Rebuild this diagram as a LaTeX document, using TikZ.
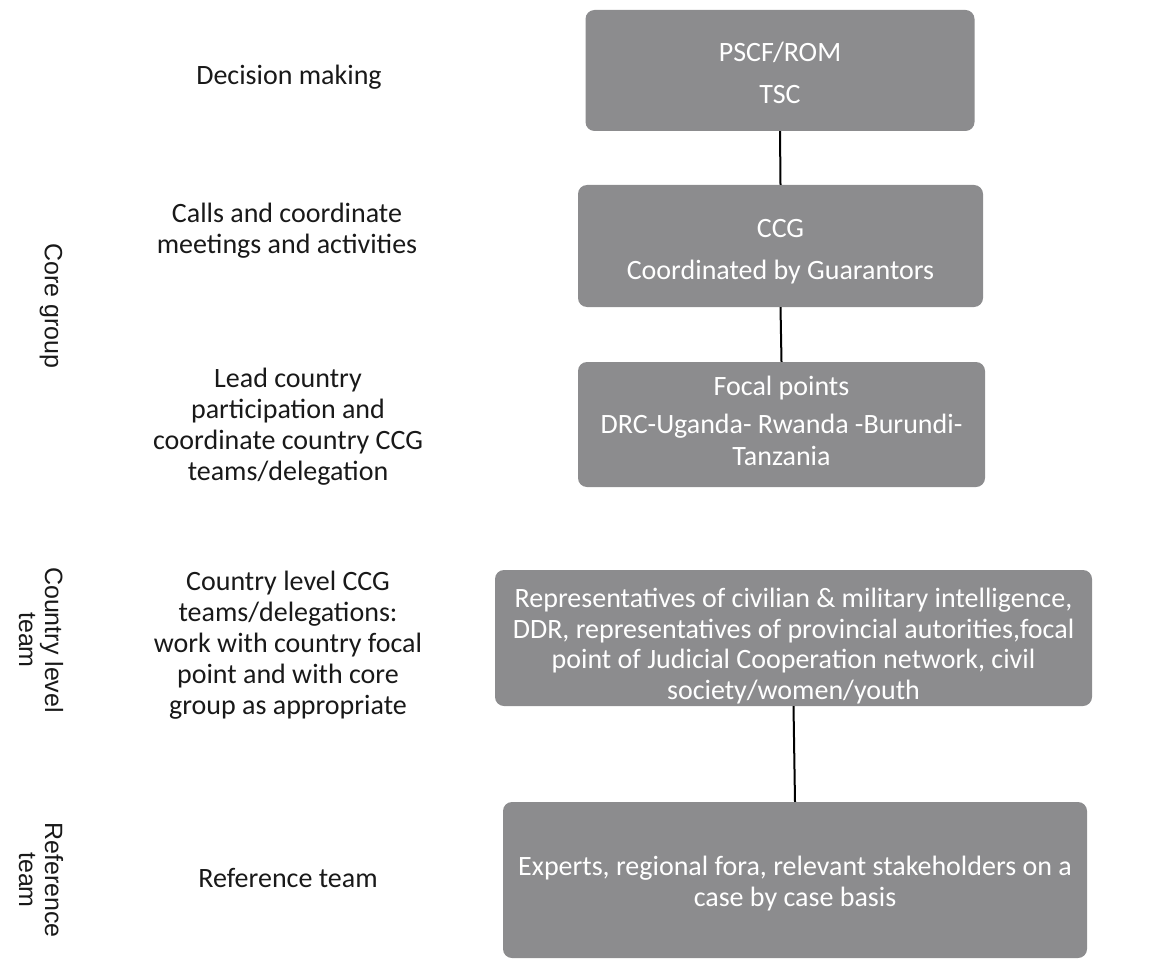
\documentclass[tikz,border=0pt]{standalone}
\usepackage{fontspec}
\setmainfont{Carlito}
\newfontfamily\sidefont{Liberation Sans}
\definecolor{boxgray}{RGB}{140,140,142}
\definecolor{labelgray}{RGB}{25,25,25}
\begin{document}
\begin{tikzpicture}[x=1pt,y=-1pt,
  box/.style={draw=none, fill=boxgray, rounded corners=9pt, inner sep=0pt},
  boxtext/.style={align=center, text=white, font=\fontsize{28}{30}\selectfont, inner sep=0pt},
  mid/.style={align=center, text=labelgray, font=\fontsize{28}{31}\selectfont, inner sep=0pt},
  side/.style={align=center, text=labelgray, font=\sidefont\fontsize{25}{26}\selectfont, rotate=-90, inner sep=0pt},
  link/.style={draw=black, line width=2pt}]
\useasboundingbox (0,0) rectangle (1161,960);
% boxes
\node[box, minimum width=389pt, minimum height=121pt] (b1) at (780,70.5) {};
\node[box, minimum width=405pt, minimum height=122pt] (b2) at (780.5,246) {};
\node[box, minimum width=407pt, minimum height=125pt] (b3) at (781.5,424.5) {};
\node[box, minimum width=597pt, minimum height=136pt] (b4) at (793.5,638) {};
\node[box, minimum width=584pt, minimum height=156pt] (b5) at (795,880) {};
% box texts
\node[boxtext, font=\fontsize{28}{42}\selectfont] (t1) at ([yshift=-2pt]b1.center) {PSCF/ROM\\TSC};
\node[boxtext, font=\fontsize{28}{42}\selectfont] (t2) at ([yshift=-6pt]b2.center) {CCG\\Coordinated by Guarantors};
\node[boxtext, font=\fontsize{28}{38}\selectfont] (t3) at ([yshift=4pt]b3.center) {Focal points\\DRC-Uganda- Rwanda -Burundi-\\[-6pt]Tanzania};
\node[boxtext, font=\fontsize{28}{30.5}\selectfont] (t4) at ([yshift=-8pt]b4.center) {Representatives of civilian \& military intelligence,\\DDR, representatives of provincial autorities,focal\\point of Judicial Cooperation network, civil\\society/women/youth};
\node[boxtext, font=\fontsize{28}{31}\selectfont] (t5) at ([yshift=-4pt]b5.center) {Experts, regional fora, relevant stakeholders on a\\case by case basis};
% connectors
\draw[link] (b1.south) -- (b2.north);
\draw[link] (b2.south) -- (b3.north);
\draw[link] (b4.south) -- (b5.north);
% middle labels
\node[mid] (m1) at (289,77) {Decision making};
\node[mid] (m2) at (287,231) {Calls and coordinate\\meetings and activities};
\node[mid] (m3) at (288,427) {Lead country\\participation and\\coordinate country CCG\\teams/delegation};
\node[mid] (m4) at (288,645) {Country level CCG\\teams/delegations:\\work with country focal\\point and with core\\group as appropriate};
\node[mid] (m5) at (288,878) {Reference team};
% side labels
\node[side] (s1) at (51,306) {Core group};
\node[side] (s2) at (41,640) {Country level\\team};
\node[side] (s3) at (41,880) {Reference\\team};
\end{tikzpicture}
\end{document}
